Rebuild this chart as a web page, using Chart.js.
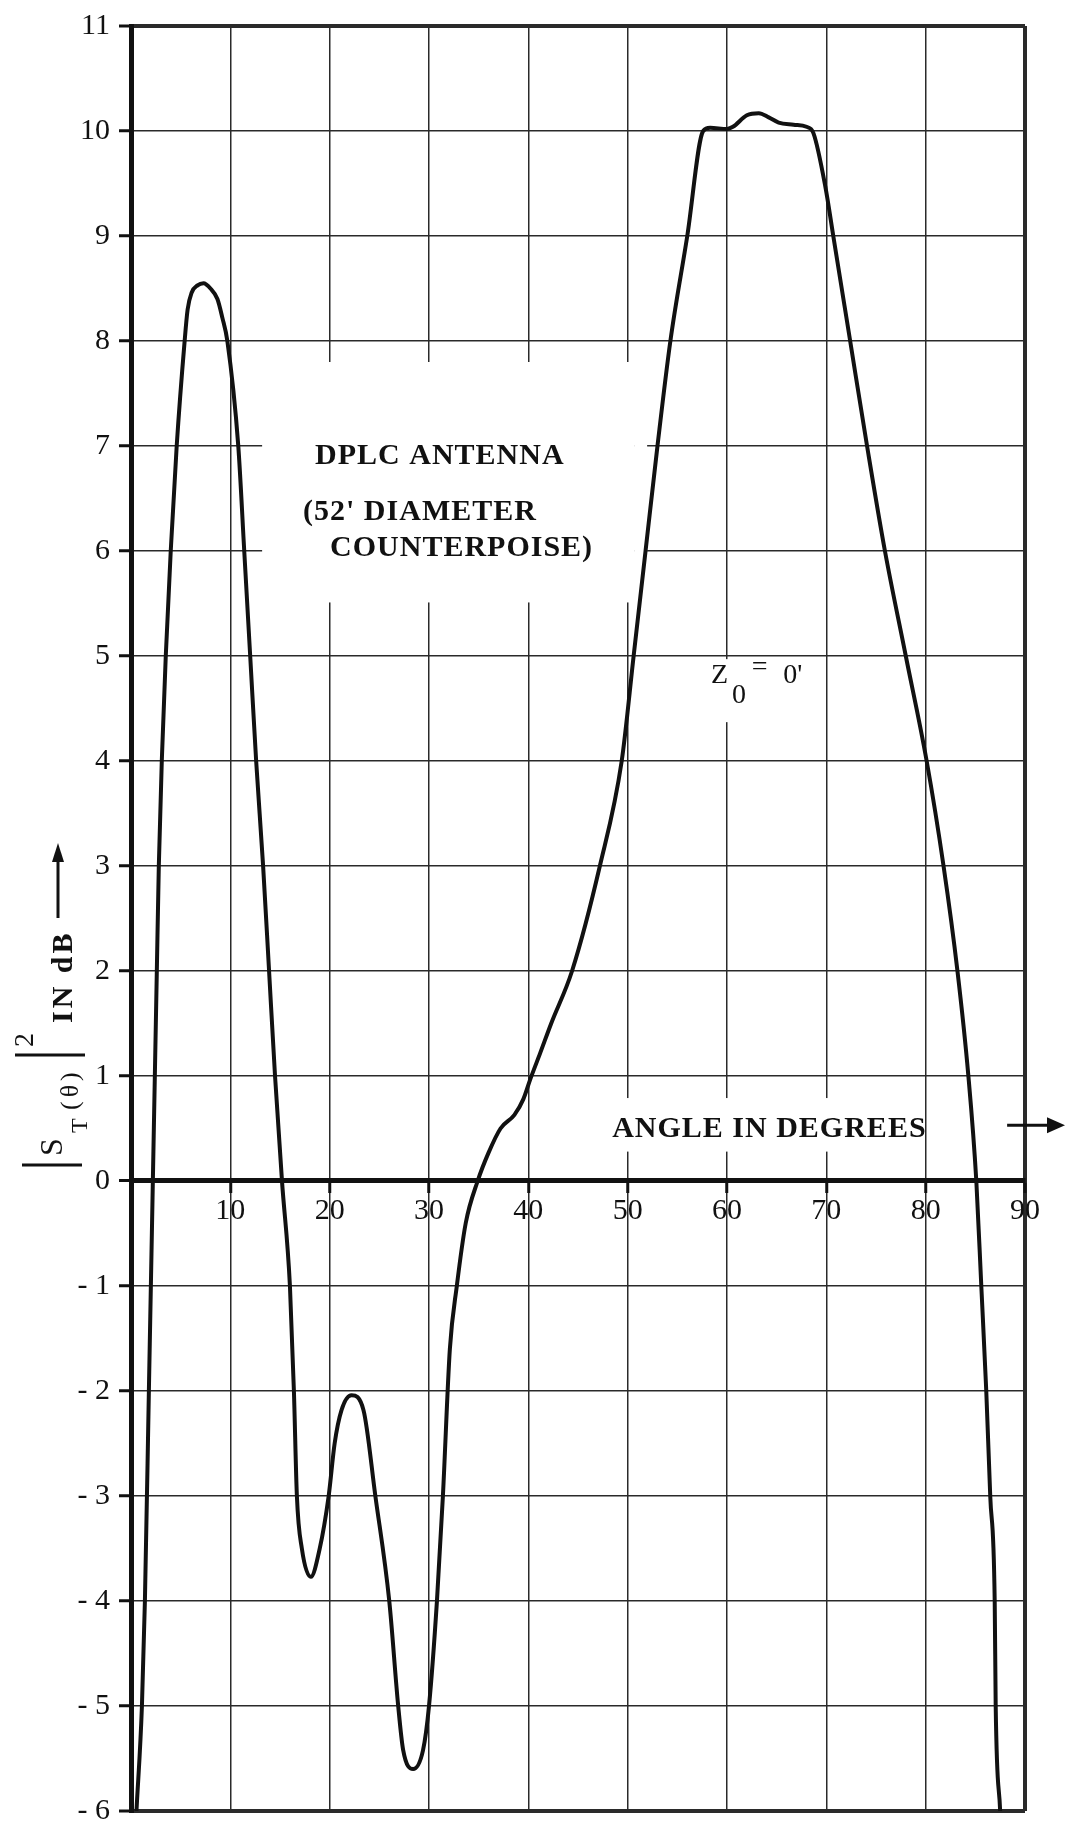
<!DOCTYPE html>
<html>
<head>
<meta charset="utf-8">
<title>DPLC antenna - |S_T(θ)|² in dB vs angle</title>
<script src="https://cdn.jsdelivr.net/npm/chart.js@4.4.1/dist/chart.umd.min.js"></script>
<style>
  html, body { margin: 0; padding: 0; background: #fff; }
  #wrap { width: 1066px; height: 1822px; }
</style>
</head>
<body>
<div id="wrap"><canvas id="gainChart" width="1066" height="1822"></canvas></div>
<script>
// curve: angle in degrees, |S_T(θ)|² in dB
const angles = [0.55, 1.1, 1.4, 1.8, 2.2, 2.4, 2.6, 2.8, 3.1, 3.5, 4.0, 4.6, 5.4, 5.7, 6.1, 6.7, 7.3, 8.0, 8.7, 9.2,
  9.7, 10.8, 11.4, 12.0, 12.6, 13.3, 13.9, 14.5, 15.2, 16.0, 16.4, 16.7, 17.2, 18.1, 19.0, 19.9, 20.5, 21.2, 22.2, 23.4,
  24.6, 26.0, 26.9, 27.4, 28.4, 29.4, 30.0, 30.8, 31.4, 32.1, 32.8, 33.7, 34.9, 36.0, 37.2, 38.6, 39.5, 40.2, 41.2, 42.3,
  44.4, 47.2, 49.4, 50.6, 51.8, 53.0, 54.3, 56.0, 57.6, 58.3, 60.0, 60.6, 62.0, 63.2, 64.2, 65.2, 66.7, 68.0, 68.7, 69.9,
  70.7, 72.4, 74.1, 75.9, 78.0, 80.1, 81.8, 83.2, 84.3, 85.1, 85.6, 86.1, 86.5, 86.95, 87.05, 87.5];
const gainDb = [-6, -5, -4, -2, 0, 1, 2, 3, 4, 5, 6, 7, 8, 8.3, 8.46, 8.53, 8.55, 8.5, 8.4, 8.22,
  8.0, 7.0, 6, 5, 4, 3, 2, 1, 0, -1, -2, -3, -3.5, -3.77, -3.5, -3, -2.5, -2.18, -2.04, -2.18,
  -3, -4, -5, -5.42, -5.6, -5.42, -5, -4, -3, -1.6, -1.0, -0.4, 0, 0.27, 0.5, 0.63, 0.78, 0.97, 1.22, 1.5,
  2, 3, 4, 5, 6, 7, 8, 9, 10, 10.03, 10.02, 10.04, 10.15, 10.17, 10.13, 10.08, 10.06, 10.04, 9.98, 9.47,
  9, 8, 7, 6, 5, 4, 3, 2, 1, 0, -1, -2, -3, -4, -5, -6];

const xTicks = [0, 10, 20, 30, 40, 50, 60, 70, 80, 90];
const yTicks = [-6, -5, -4, -3, -2, -1, 0, 1, 2, 3, 4, 5, 6, 7, 8, 9, 10, 11];

const INK = '#111';
const GRID = '#2a2a2a';
const tickFont = { family: 'Liberation Serif', size: 30 };

const points = angles.map((a, i) => ({ x: a, y: gainDb[i] }));

function rotText(ctx, str, x, y, font, spacing) {
    // text read bottom to top, baseline at screen x
    ctx.save();
    ctx.translate(x, y);
    ctx.rotate(-Math.PI / 2);
    ctx.font = font;
    ctx.letterSpacing = spacing || '0px';
    ctx.textAlign = 'left';
    ctx.textBaseline = 'alphabetic';
    ctx.fillText(str, 0, 0);
    ctx.restore();
}

const notes = {
    id: 'notes',
    beforeDatasetsDraw(chart) {
        const ctx = chart.ctx;
        const px = v => chart.scales.x.getPixelForValue(v);
        const py = v => chart.scales.y.getPixelForValue(v);
        // the printed labels blank out the grid behind them
        ctx.save();
        ctx.fillStyle = '#fff';
        ctx.fillRect(px(13.2), py(7.8), px(50.65) - px(13.2), py(5.51) - py(7.8));
        ctx.fillRect(px(50.65), py(7.8), px(51.96) - px(50.65), py(5.91) - py(7.8));
        ctx.fillRect(px(57.3), py(4.97), px(68.9) - px(57.3), py(4.37) - py(4.97));
        ctx.fillRect(px(47.2), py(0.79), px(79.7) - px(47.2), py(0.28) - py(0.79));
        ctx.restore();
    },
    afterDraw(chart) {
        const ctx = chart.ctx;
        const px = v => chart.scales.x.getPixelForValue(v);
        const py = v => chart.scales.y.getPixelForValue(v);
        ctx.save();
        ctx.fillStyle = INK;
        ctx.strokeStyle = INK;
        ctx.textAlign = 'left';
        ctx.textBaseline = 'alphabetic';

        ctx.font = 'bold 30px "Liberation Serif"';
        ctx.letterSpacing = '1px';
        ctx.fillText('DPLC ANTENNA', px(18.53), py(6.83));
        ctx.fillText("(52' DIAMETER", px(17.32), py(6.30));
        ctx.fillText('COUNTERPOISE)', px(20.04), py(5.95));
        ctx.fillText('ANGLE IN DEGREES', px(48.44), py(0.42));

        ctx.letterSpacing = '0px';
        ctx.font = '28px "Liberation Serif"';
        ctx.fillText('Z', px(58.4), py(4.74));
        ctx.fillText('=', px(62.5), py(4.82));
        ctx.fillText("0'", px(65.66), py(4.74));
        ctx.fillText('0', px(60.5), py(4.55));

        // arrow after ANGLE IN DEGREES
        const ay = py(0.53);
        const ax = px(88.2);
        ctx.lineWidth = 3;
        ctx.beginPath();
        ctx.moveTo(ax, ay);
        ctx.lineTo(chart.width - 14, ay);
        ctx.stroke();
        ctx.beginPath();
        ctx.moveTo(chart.width - 1, ay);
        ctx.lineTo(chart.width - 19, ay - 8);
        ctx.lineTo(chart.width - 19, ay + 8);
        ctx.closePath();
        ctx.fill();

        // y axis title |S_T(θ)|² IN dB ->
        ctx.lineWidth = 3;
        ctx.beginPath();
        ctx.moveTo(22, 1165); ctx.lineTo(82, 1165);
        ctx.moveTo(15, 1055); ctx.lineTo(85, 1055);
        ctx.stroke();
        rotText(ctx, 'S', 62, 1156, '32px "Liberation Serif"');
        rotText(ctx, 'T', 87, 1133, '24px "Liberation Serif"');
        rotText(ctx, '(θ)', 78, 1110, '26px "Liberation Serif"', '4px');
        rotText(ctx, '2', 33, 1047, '28px "Liberation Serif"');
        rotText(ctx, 'IN dB', 72, 1023, 'bold 30px "Liberation Serif"', '3px');
        ctx.lineWidth = 3;
        ctx.beginPath();
        ctx.moveTo(58, 918); ctx.lineTo(58, 856);
        ctx.stroke();
        ctx.beginPath();
        ctx.moveTo(58, 843); ctx.lineTo(52, 862); ctx.lineTo(64, 862);
        ctx.closePath();
        ctx.fill();
        ctx.restore();
    }
};

new Chart(document.getElementById('gainChart'), {
    type: 'line',
    data: {
        datasets: [{
            label: 'Z0 = 0\'',
            data: points,
            borderColor: INK,
            borderWidth: 4,
            pointRadius: 0,
            fill: false,
            cubicInterpolationMode: 'monotone'
        }]
    },
    options: {
        responsive: false,
        animation: false,
        devicePixelRatio: 1,
        events: [],
        layout: { padding: { left: 0, top: 26, right: 41, bottom: 11 } },
        plugins: {
            legend: { display: false },
            tooltip: { enabled: false }
        },
        scales: {
            x: {
                type: 'linear',
                min: 0,
                max: 90,
                position: { y: 0 },
                afterBuildTicks: s => { s.ticks = xTicks.map(v => ({ value: v })); },
                afterFit: s => { s.paddingLeft = 0; s.paddingRight = 0; },
                ticks: {
                    callback: v => v === 0 ? '' : String(v),
                    font: tickFont,
                    color: INK,
                    padding: 2,
                    maxRotation: 0,
                    autoSkip: false
                },
                grid: {
                    color: GRID,
                    lineWidth: c => c.tick && c.tick.value === 90 ? 4 : 1.5,
                    tickLength: 10,
                    tickWidth: 3,
                    tickColor: INK
                },
                border: { display: true, width: 5, color: INK }
            },
            y: {
                type: 'linear',
                min: -6,
                max: 11,
                afterBuildTicks: s => { s.ticks = yTicks.map(v => ({ value: v })); },
                afterFit: s => { s.width = 131; s.paddingTop = 0; s.paddingBottom = 0; },
                ticks: {
                    callback: v => v < 0 ? '- ' + Math.abs(v) : String(v),
                    font: tickFont,
                    color: INK,
                    padding: 9
                },
                grid: {
                    color: GRID,
                    lineWidth: c => {
                        const v = c.tick ? c.tick.value : null;
                        if (v === 11 || v === -6) return 4;
                        if (v === 0) return 5;
                        return 1.5;
                    },
                    tickLength: 12,
                    tickWidth: 3,
                    tickColor: INK
                },
                border: { display: true, width: 5, color: INK }
            }
        }
    },
    plugins: [notes]
});
</script>
</body>
</html>
